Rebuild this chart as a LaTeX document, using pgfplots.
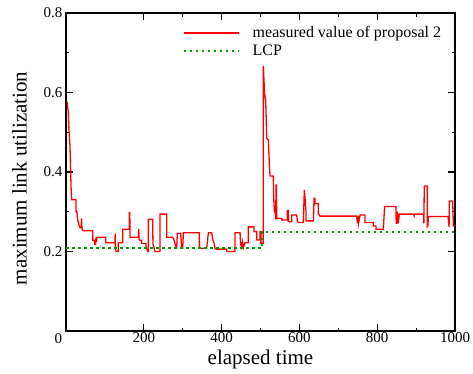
\documentclass[border=0pt]{standalone}
\usepackage{pgfplots}
\pgfplotsset{compat=1.18}
\usepackage{fontspec}
\setmainfont{Liberation Serif}
\definecolor{lcpgreen}{RGB}{0,155,0}
\begin{document}
\begin{tikzpicture}
\begin{axis}[
  scale only axis,
  width=389pt, height=318pt,
  xmin=0, xmax=1000, ymin=0, ymax=0.8,
  xtick={200,400,600,800,1000},
  xticklabels={\textrm{200},\textrm{400},\textrm{600},\textrm{800},\textrm{1000}},
  ytick={0.2,0.4,0.6,0.8},
  yticklabels={\textrm{0.2},\textrm{0.4},\textrm{0.6},\textrm{0.8}},
  minor x tick num=1, minor y tick num=1,
  tick align=inside,
  major tick length=7pt, minor tick length=3.5pt,
  axis line style={line width=1.2pt},
  every tick/.style={black, line width=1.1pt},
  yticklabel style={font=\rmfamily\fontsize{15}{17}\selectfont},
  xticklabel style={font=\rmfamily\fontsize{15}{17}\selectfont, yshift=2.5pt},
  xlabel={elapsed time},
  ylabel={maximum link utilization},
  xlabel style={font=\fontsize{21}{24}\selectfont, at={(axis description cs:0.5,-0.091)}, anchor=center},
  ylabel style={font=\fontsize{21}{24}\selectfont, at={(axis description cs:-0.12,0.48)}, anchor=center},
  legend image code/.code={\draw[#1] (0pt,0pt) -- (55pt,0pt);},
  legend style={draw=none, fill=none, at={(rel axis cs:0.3,0.966)}, anchor=north west,
    font=\fontsize{16}{19}\selectfont, inner sep=0pt, row sep=0pt,
    nodes={inner sep=0pt, text height=13pt, text depth=5pt},
    /tikz/every odd column/.append style={column sep=13pt}},
  legend cell align=left,
]
\addplot[red, line width=1.3pt] coordinates {
(3,0.577) (4,0.565) (6,0.55) (7,0.52) (8,0.50) (10,0.47) (11,0.44) (12,0.40) (13,0.36) (14.6,0.33) (25.7,0.33) (26,0.30) (28,0.30) (30,0.28) (32,0.272) (34,0.265) (36,0.26) (39,0.26) (40,0.283) (41,0.258) (44,0.252) (68.6,0.252) (69,0.228) (73,0.228) (74,0.218) (76,0.218) (77,0.234) (78,0.234) (78.5,0.224) (79,0.236) (102,0.236) (102,0.222) (126,0.222) (126.5,0.245) (127,0.21) (128.6,0.20) (134,0.20) (134.6,0.222) (145.7,0.222) (145.7,0.256) (162.9,0.256) (162.9,0.298) (164,0.298) (164.5,0.236) (186,0.236) (187,0.256) (188,0.23) (190,0.228) (194,0.228) (195,0.22) (205.7,0.22) (206,0.21) (210,0.2) (211.7,0.2) (211.7,0.281) (222.8,0.281) (223.5,0.22) (228.8,0.2) (241.7,0.2) (241.7,0.294) (258.8,0.294) (258.8,0.236) (274,0.236) (277,0.231) (280,0.221) (283,0.208) (284.5,0.208) (286.2,0.246) (294.8,0.246) (297.4,0.208) (300,0.208) (301.7,0.247) (342.8,0.247) (342.8,0.208) (361.7,0.208) (366,0.247) (374.5,0.247) (377,0.232) (380.5,0.221) (383,0.208) (386,0.206) (413,0.206) (413,0.200) (434.5,0.200) (434.5,0.247) (447.4,0.247) (449,0.215) (450,0.225) (451,0.205) (452,0.222) (453,0.208) (454,0.222) (456,0.21) (460,0.222) (468.8,0.222) (468.8,0.262) (483.4,0.262) (483.4,0.25) (490.3,0.25) (490.3,0.229) (498.8,0.229) (499,0.25) (501,0.25) (501,0.221) (507,0.221) (507.4,0.667) (508.5,0.64) (509,0.632) (510,0.60) (513.3,0.581) (516,0.485) (520.2,0.481) (522.8,0.418) (524.5,0.39) (533,0.39) (533.5,0.346) (534.8,0.317) (536,0.30) (538,0.30) (539,0.28) (540,0.367) (541,0.367) (541.6,0.283) (554.5,0.283) (554.5,0.279) (569,0.279) (569,0.303) (571.6,0.303) (571.6,0.275) (580.2,0.275) (580.2,0.292) (593,0.292) (595,0.275) (597.3,0.273) (610,0.273) (612.7,0.355) (614,0.34) (617,0.30) (617,0.277) (636,0.277) (637.7,0.334) (640,0.334) (640,0.32) (642.8,0.321) (648.7,0.321) (648.7,0.296) (653,0.289) (747.3,0.289) (749,0.271) (751,0.29) (752,0.271) (756,0.292) (768.7,0.292) (768.7,0.273) (790,0.273) (790,0.264) (797,0.264) (797,0.256) (815.8,0.256) (819,0.313) (848,0.313) (848.5,0.288) (849,0.271) (851,0.271) (852,0.30) (854,0.271) (857,0.294) (894,0.294) (895,0.29) (896,0.294) (920,0.294) (920,0.271) (921,0.365) (929,0.365) (929,0.262) (930,0.262) (931.5,0.288) (982,0.288) (984.7,0.262) (985.6,0.327) (994,0.327) (995.8,0.264) (1000,0.264)
};
\addlegendentry{measured value of proposal 2}
\addplot[lcpgreen, line width=1.8pt, dash pattern=on 2.6pt off 3.4pt] coordinates {
(0,0.208) (504,0.208) (504,0.2495) (1000,0.2495)
};
\addlegendentry{LCP}
\end{axis}
\node[font=\fontsize{15}{17}\selectfont, anchor=center] at ([shift={(-7.5pt,-8pt)}]current axis.south west) {0};
\pgfresetboundingbox
\path ([shift={(-66pt,-43pt)}]current axis.south west) rectangle ([shift={(18pt,13pt)}]current axis.north east);
\end{tikzpicture}
\end{document}
